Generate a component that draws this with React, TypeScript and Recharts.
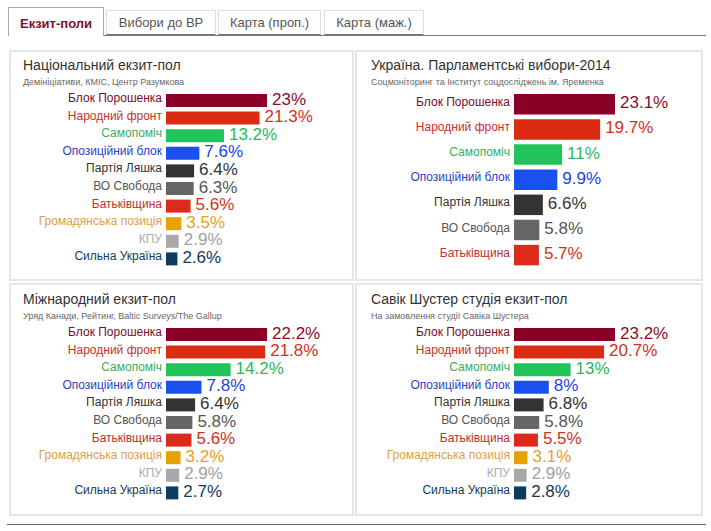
import React from 'react';
import { BarChart, Bar, XAxis, YAxis, Cell, LabelList } from 'recharts';

const FONT = '"Liberation Sans", Arial, sans-serif';

const parties = [
  'Блок Порошенка',
  'Народний фронт',
  'Самопоміч',
  'Опозиційний блок',
  'Партія Ляшка',
  'ВО Свобода',
  'Батьківщина',
  'Громадянська позиція',
  'КПУ',
  'Сильна Україна',
];
const barColors = ['#8a0026', '#dc2b13', '#22c35a', '#1a50f0', '#333333', '#666666', '#dc2b1c', '#e8a200', '#a8a8a8', '#0d3c5e'];
const nameColors = ['#7d0a2a', '#c8302a', '#3aac5a', '#2a40c0', '#333333', '#555555', '#c0302a', '#e0a040', '#aaaaaa', '#173a55'];
const valueColors = ['#8a0d2a', '#cc3322', '#2db85a', '#2044e0', '#333333', '#555555', '#cc3322', '#e6a020', '#a0a0a0', '#123a5a'];

const nationalValues = [23, 21.3, 13.2, 7.6, 6.4, 6.3, 5.6, 3.5, 2.9, 2.6];
const officialValues = [23.1, 19.7, 11, 9.9, 6.6, 5.8, 5.7];
const internationalValues = [22.2, 21.8, 14.2, 7.8, 6.4, 5.8, 5.6, 3.2, 2.9, 2.7];
const shusterValues = [23.2, 20.7, 13, 8, 6.8, 5.8, 5.5, 3.1, 2.9, 2.8];

const titles = ['Національний екзит-пол', 'Україна. Парламентські вибори-2014', 'Міжнародний екзит-пол', 'Савік Шустер студія екзит-пол'];
const subtitles = [
  'Демініціативи, КМІС, Центр Разумкова',
  'Соцмоніторинг та Інститут соцдосліджень ім. Яременка',
  'Уряд Канади, Рейтинг, Baltic Surveys/The Gallup',
  'На замовлення студії Савіка Шустера',
];
const tabs = ['Екзит-поли', 'Вибори до ВР', 'Карта (проп.)', 'Карта (маж.)'];

const NameTick = (props: any) => {
  const { x, y, payload } = props;
  const idx = parties.indexOf(payload.value);
  return (
    <text x={x} y={y - 3} dy="0.355em" textAnchor="end" fontSize={12} fontFamily={FONT} fill={nameColors[idx]}>
      {payload.value}
    </text>
  );
};

const renderValue = (props: any) => {
  const { x, y, width, height, value, index } = props;
  return (
    <text x={Number(x) + Number(width) + 5} y={Number(y) + Number(height) / 2 - 2} dy="0.355em" fontSize={17} fontFamily={FONT} fill={valueColors[index]}>
      {value}%
    </text>
  );
};

function PollChart({ values, left, top, axisWidth, barSize, plotHeight }: any) {
  const rows = values.map((v: number, i: number) => ({ name: parties[i], value: v, idx: i }));
  const width = axisWidth + 101 + 75;
  return (
    <div style={{ position: 'absolute', left, top }}>
      <BarChart
        width={width}
        height={plotHeight + 9}
        data={rows}
        layout="vertical"
        margin={{ top: 4, right: 75, bottom: 5, left: 0 }}
      >
        <XAxis type="number" hide domain={[0, 'dataMax']} />
        <YAxis
          type="category"
          dataKey="name"
          width={axisWidth}
          axisLine={false}
          tickLine={false}
          tickSize={0}
          tickMargin={4}
          interval={0}
          tick={<NameTick />}
        />
        <Bar dataKey="value" barSize={barSize} isAnimationActive={false}>
          {rows.map((r: any) => (
            <Cell key={r.name} fill={barColors[r.idx]} />
          ))}
          <LabelList dataKey="value" content={renderValue} />
        </Bar>
      </BarChart>
    </div>
  );
}

function Box({ left, top, width, height }: any) {
  return (
    <div
      style={{
        position: 'absolute',
        left,
        top,
        width,
        height,
        boxSizing: 'border-box',
        border: '2px solid #e6e6e6',
      }}
    />
  );
}

function Heading({ left, top, title, subtitle }: any) {
  return (
    <>
      <div style={{ position: 'absolute', left, top, fontSize: 14, lineHeight: '16px', color: '#333', whiteSpace: 'nowrap' }}>{title}</div>
      <div style={{ position: 'absolute', left, top: top + 19, fontSize: 9, lineHeight: '12px', color: '#666', whiteSpace: 'nowrap' }}>{subtitle}</div>
    </>
  );
}

const tabBoxes = [
  { left: 8, width: 96 },
  { left: 106, width: 110 },
  { left: 218, width: 103 },
  { left: 324, width: 100 },
];

export default function App() {
  return (
    <div style={{ position: 'absolute', left: 0, top: 0, width: 711, height: 531, background: '#fff', fontFamily: FONT, overflow: 'hidden' }}>
      <div style={{ position: 'absolute', left: 8, top: 35, width: 698, height: 1, background: '#777' }} />
      {tabs.map((t, i) => {
        const active = i === 0;
        return (
          <div
            key={t}
            style={{
              position: 'absolute',
              left: tabBoxes[i].left,
              top: active ? 7 : 10,
              width: tabBoxes[i].width,
              height: active ? 29 : 25,
              boxSizing: 'border-box',
              border: active ? '1px solid #aaa' : '1px solid #ddd',
              borderBottom: active ? 'none' : '1px solid #777',
              background: '#fff',
              color: active ? '#7b1133' : '#555',
              fontWeight: active ? 'bold' : 'normal',
              fontSize: 13,
              lineHeight: active ? '34px' : '28px',
              textAlign: 'center',
              whiteSpace: 'nowrap',
            }}
          >
            <span style={{ position: 'relative', top: active ? -1 : -2 }}>{t}</span>
          </div>
        );
      })}

      <Box left={9} top={50} width={345} height={231} />
      <Box left={355} top={50} width={348} height={231} />
      <Box left={9} top={283} width={345} height={233} />
      <Box left={355} top={283} width={348} height={233} />

      <Heading left={23} top={57} title={titles[0]} subtitle={subtitles[0]} />
      <Heading left={371} top={57} title={titles[1]} subtitle={subtitles[1]} />
      <Heading left={23} top={291} title={titles[2]} subtitle={subtitles[2]} />
      <Heading left={371} top={291} title={titles[3]} subtitle={subtitles[3]} />

      <PollChart values={nationalValues} left={12} top={88} axisWidth={154} barSize={13} plotHeight={176} />
      <PollChart values={officialValues} left={358} top={88} axisWidth={156} barSize={20.5} plotHeight={176} />
      <PollChart values={internationalValues} left={12} top={322} axisWidth={154} barSize={13} plotHeight={176} />
      <PollChart values={shusterValues} left={358} top={322} axisWidth={156} barSize={13} plotHeight={176} />

      <div style={{ position: 'absolute', left: 7, top: 524, width: 699, height: 1, background: '#666' }} />
    </div>
  );
}
